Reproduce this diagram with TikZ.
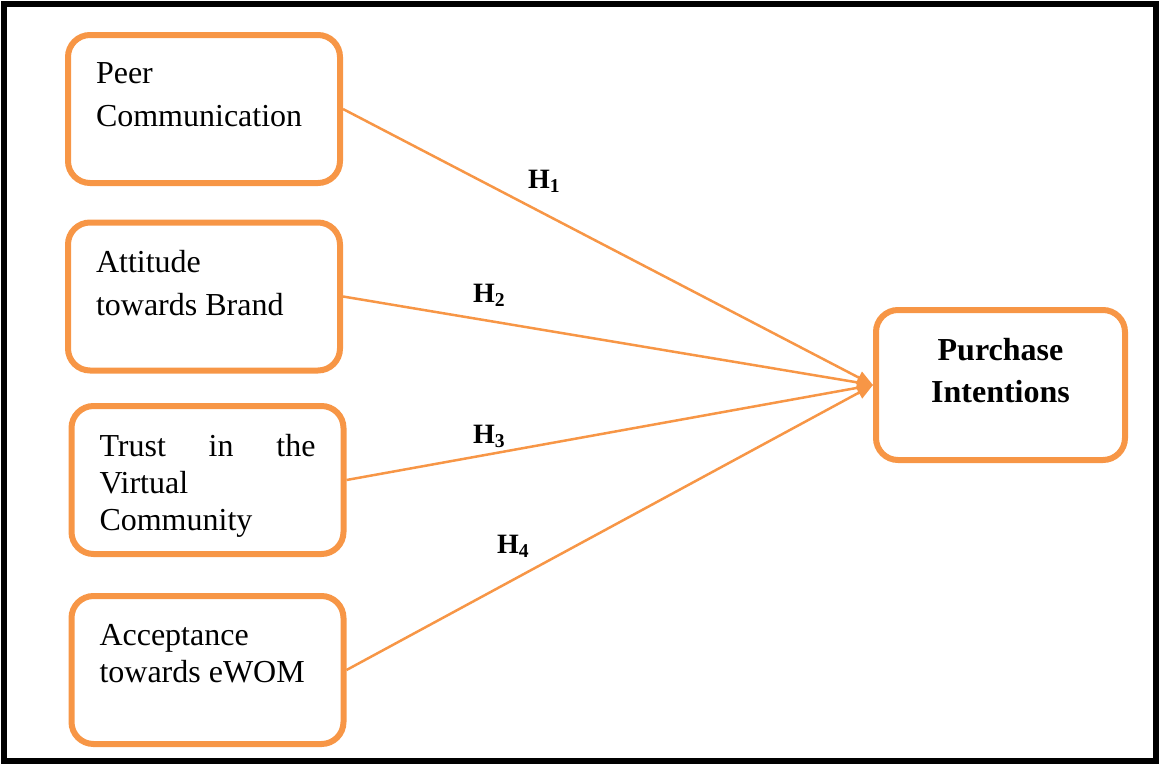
\documentclass[tikz,border=0pt]{standalone}
\usepackage{fontspec}
\setmainfont{Liberation Serif}
\usetikzlibrary{arrows.meta}
\definecolor{accentorange}{HTML}{F79646}
\newcommand{\boxtext}[2][43]{\parbox[c][92pt][t]{216pt}{\fontsize{32}{#1}\selectfont #2}}

\begin{document}
\begin{tikzpicture}[x=1pt,y=-1pt,
    factor/.style={draw=accentorange,line width=6pt,rounded corners=22pt,
      minimum width=272pt,minimum height=148pt,inner xsep=28pt,inner ysep=28pt},
    link/.style={draw=accentorange,line width=2.5pt,-{Triangle[length=16pt,width=13pt]}},
    hyp/.style={anchor=base west,inner sep=0pt,font=\fontsize{28}{30}\selectfont\bfseries}]
  \useasboundingbox (0,0) rectangle (1160,764);
  \draw[line width=6pt] (4,3.5) rectangle (1156,761);

  \node[factor] (peer) at (204,109) {\boxtext{Peer\\Communication}};
  \node[factor] (attitude) at (204,296.5) {\boxtext{Attitude\\towards Brand}};
  \node[factor] (trust) at (207.5,480) {\boxtext[37]{Trust\hfill in\hfill the\\Virtual\\Community}};
  \node[factor] (ewom) at (207.5,670) {\boxtext[37]{Acceptance\\towards eWOM}};
  \node[factor,minimum width=249pt,minimum height=150pt] (intent) at (1000.5,385)
    {\parbox[c][94pt][t]{193pt}{\centering\fontsize{32}{42}\selectfont\bfseries Purchase\\Intentions}};

  \draw[link] (peer.east) -- (intent.west);
  \draw[link] (attitude.east) -- (intent.west);
  \draw[link] (trust.east) -- (intent.west);
  \draw[link] (ewom.east) -- (intent.west);

  \node[hyp] (h1) at (528,188) {H\textsubscript{1}};
  \node[hyp] (h2) at (473,302) {H\textsubscript{2}};
  \node[hyp] (h3) at (473,443) {H\textsubscript{3}};
  \node[hyp] (h4) at (497,553) {H\textsubscript{4}};
\end{tikzpicture}
\end{document}
